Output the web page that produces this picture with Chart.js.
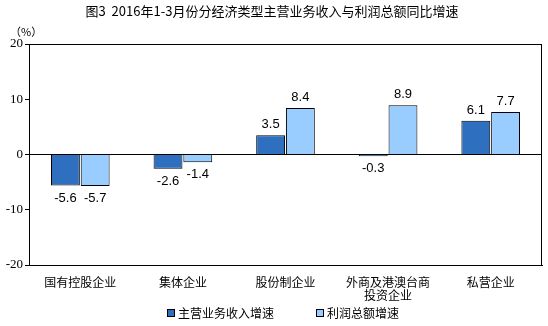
<!DOCTYPE html>
<html><head><meta charset="utf-8">
<script src="https://cdn.jsdelivr.net/npm/chart.js@4"></script>
<style>html,body{margin:0;padding:0;background:#fff}#wrap{width:548px;height:326px;position:relative}</style>
</head><body><div id="wrap"><canvas id="c" width="548" height="326"></canvas></div>
<script>
const categories = [["国有控股企业"], ["集体企业"], ["股份制企业"], ["外商及港澳台商", "投资企业"], ["私营企业"]];
const revenueGrowth = [-5.6, -2.6, 3.5, -0.3, 6.1];
const profitGrowth = [-5.7, -1.4, 8.4, 8.9, 7.7];
const seriesNames = ["主营业务收入增速", "利润总额增速"];
const yTicks = [-20, -10, 0, 10, 20];
const titleText = "图3  2016年1-3月份分经济类型主营业务收入与利润总额同比增速";
const unitText = "（%）";

const CJK = '"Noto Sans CJK SC", sans-serif';
const colors = ["#2f6fc0", "#99ccff"];

const extras = {
  id: 'extras',
  afterDraw(chart) {
    const ctx = chart.ctx, a = chart.chartArea;
    ctx.save();
    // frame
    ctx.strokeStyle = '#000'; ctx.lineWidth = 1;
    ctx.strokeRect(Math.round(a.left) + 0.5, Math.round(a.top) + 0.5, Math.round(a.right - a.left) - 1, Math.round(a.bottom - a.top));
    // title
    ctx.fillStyle = '#000';
    ctx.font = '13px ' + CJK;
    ctx.textAlign = 'center'; ctx.textBaseline = 'middle';
    ctx.fillText(titleText, 272, 11);
    // unit
    ctx.font = '11px ' + CJK;
    ctx.textAlign = 'left';
    ctx.fillText(unitText, 10, 32);
    // value labels
    ctx.font = '13px "Liberation Sans", Arial, sans-serif';
    chart.data.datasets.forEach((ds, di) => {
      const meta = chart.getDatasetMeta(di);
      meta.data.forEach((bar, i) => {
        const v = ds.data[i];
        ctx.textAlign = 'center';
        if (v >= 0) { ctx.textBaseline = 'bottom'; ctx.fillText(v.toFixed(1), bar.x, bar.y - 4); }
        else { ctx.textBaseline = 'top'; ctx.fillText(v.toFixed(1), bar.x, Math.max(bar.y, chart.scales.y.getPixelForValue(0)) + 6); }
      });
    });
    // legend
    ctx.font = '12px ' + CJK;
    ctx.textBaseline = 'middle'; ctx.textAlign = 'left';
    const lx = [167, 316];
    seriesNames.forEach((n, i) => {
      ctx.fillStyle = colors[i];
      ctx.fillRect(lx[i], 309, 8, 8);
      ctx.strokeStyle = '#000'; ctx.strokeRect(lx[i] + 0.5, 309.5, 7, 7);
      ctx.fillStyle = '#000';
      ctx.fillText(n, lx[i] + 11, 313);
    });
    ctx.restore();
  }
};

new Chart(document.getElementById('c'), {
  type: 'bar',
  data: {
    labels: categories,
    datasets: [
      { label: seriesNames[0], data: revenueGrowth, backgroundColor: colors[0], borderColor: '#000', borderWidth: 1 },
      { label: seriesNames[1], data: profitGrowth, backgroundColor: colors[1], borderColor: '#000', borderWidth: 1 }
    ]
  },
  options: {
    responsive: false, animation: false,
    layout: { padding: { top: 44, right: 6, left: 0, bottom: 0 } },
    plugins: { legend: { display: false }, title: { display: false }, tooltip: { enabled: false } },
    datasets: { bar: { categoryPercentage: 0.58, barPercentage: 0.97 } },
    scales: {
      x: {
        grid: { display: false },
        border: { display: true, color: '#000' },
        ticks: { color: '#000', font: { family: CJK, size: 12, lineHeight: 1.1 }, padding: 3, maxRotation: 0, autoSkip: false },
        afterFit(s) { s.height = 61; }
      },
      y: {
        min: -20, max: 20,
        afterBuildTicks(s) { s.ticks = yTicks.map(v => ({ value: v })); },
        afterFit(s) { s.width = 29; },
        grid: { color: c => (c.tick && c.tick.value === 0) ? '#000' : 'rgba(0,0,0,0)', tickColor: '#000', tickLength: 4, drawTicks: true },
        border: { display: true, color: '#000' },
        ticks: { color: '#000', font: { family: '"Liberation Serif", serif', size: 13 }, padding: 2 }
      }
    }
  },
  plugins: [extras]
});
</script></body></html>
